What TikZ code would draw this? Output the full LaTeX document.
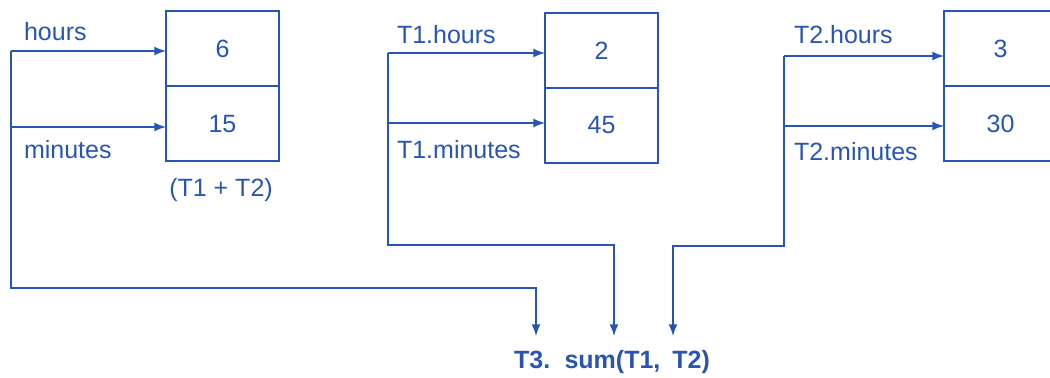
\documentclass[tikz,border=0pt]{standalone}
\usepackage{fontspec}
\setmainfont{Liberation Sans}
\usepackage{tikz}
\definecolor{ink}{RGB}{40,85,180}

\begin{document}
\begin{tikzpicture}[
    x=.5pt, y=-.5pt,
    every node/.style={text=ink, font=\fontsize{12.5}{15}\selectfont},
    cell/.style={draw=ink, line width=1pt, minimum width=56.5pt, minimum height=37.5pt, inner sep=0pt, outer sep=0pt},
    link/.style={draw=ink, line width=1pt},
    >=latex]
      \useasboundingbox (0,0) rectangle (1050,378);

      % the three records
      \node[cell] (h1) at (222.5,49) {6};
      \node[cell, anchor=north] (m1) at (h1.south) {15};

      \node[cell] (h2) at (601.5,50.5) {2};
      \node[cell, anchor=north] (m2) at (h2.south) {45};

      \node[cell] (h3) at (1000.5,49) {3};
      \node[cell, anchor=north] (m3) at (h3.south) {30};

      \node[anchor=west] (hours) at (17,32) {hours};
      \node[anchor=west] (minutes) at (17,150) {minutes};
      \node (t1t2) at (221,190) {(T1 + T2)};

      \node[anchor=west] (t1h) at (390,35) {T1.hours};
      \node[anchor=west] (t1m) at (390,150) {T1.minutes};

      \node[anchor=west] (t2h) at (787,35) {T2.hours};
      \node[anchor=west] (t2m) at (787,152) {T2.minutes};

      \node[font=\fontsize{12.5}{15}\selectfont\bfseries] (sum) at (612,362) {T3.\hspace{.2em} sum(T1,\hspace{.2em} T2)};

      \coordinate (c1) at (11,51);
      \coordinate (d1) at (11,127);
      \coordinate (c2) at (388,53);
      \coordinate (d2) at (388,123);
      \coordinate (c3) at (784,56);
      \coordinate (d3) at (784,126);

      \coordinate (a1) at (536,336);
      \coordinate (a2) at (614,336);
      \coordinate (a3) at (673,336);

      % members
      \draw[link, ->] (c1) -- (c1 -| h1.west);
      \draw[link, ->] (d1) -- (d1 -| m1.west);
      \draw[link, ->] (c2) -- (c2 -| h2.west);
      \draw[link, ->] (d2) -- (d2 -| m2.west);
      \draw[link, ->] (c3) -- (c3 -| h3.west);
      \draw[link, ->] (d3) -- (d3 -| m3.west);

      % into the call
      \draw[link, ->] (c1) -- (11,288) -| (a1);
      \draw[link, ->] (c2) -- (388,245) -| (a2);
      \draw[link, ->] (c3) -- (784,246) -| (a3);

    \end{tikzpicture}
\end{document}
